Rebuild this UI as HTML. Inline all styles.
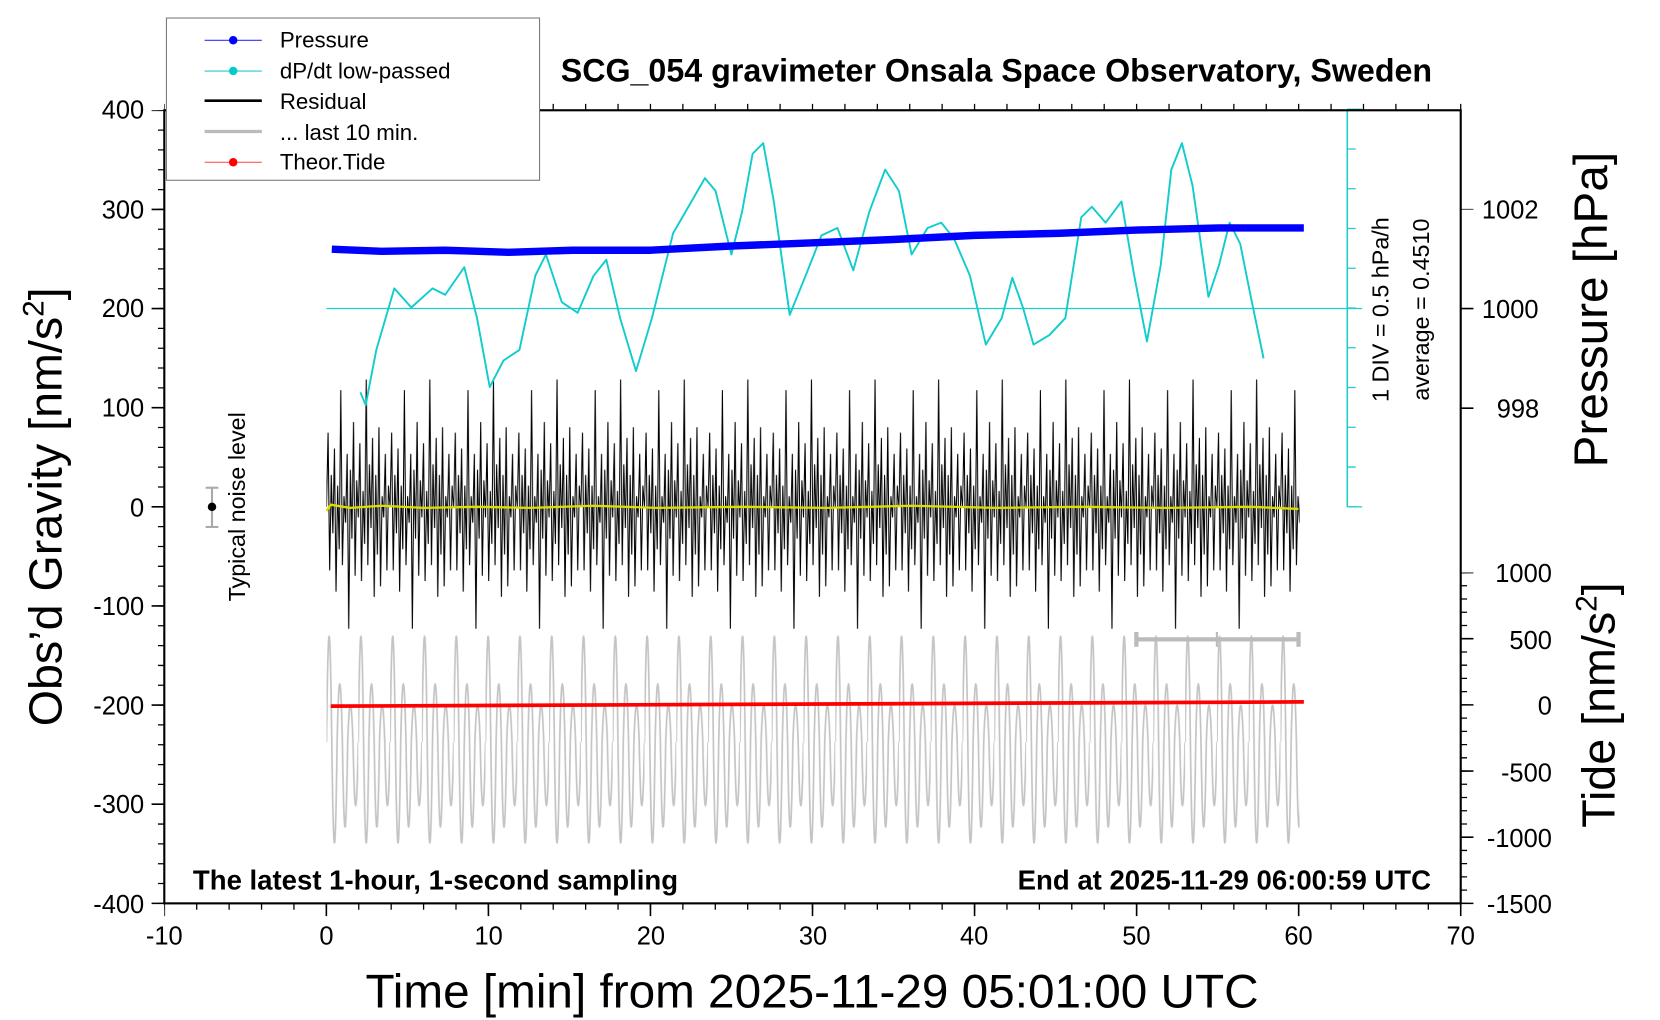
<!DOCTYPE html>
<html><head><meta charset="utf-8"><style>
html,body{margin:0;padding:0;background:#fff;}
svg{display:block;font-family:"Liberation Sans",sans-serif;}
</style></head><body>
<svg width="1660" height="1020" viewBox="0 0 1566 962" preserveAspectRatio="none" xmlns="http://www.w3.org/2000/svg">
<defs>
<pattern id="res" patternUnits="userSpaceOnUse" x="308" y="318" width="60" height="320">
<path fill="none" stroke="#000" stroke-width="1" d="M0,160 L1.5,90 3,220 4.5,130 6,185 7.5,105 9,240 10.5,140 12,200 13.5,50 15,215 16.5,150 18,175 19.5,110 21,275 22.5,125 24,190 25.5,80 27,225 28.5,135 30,170 31.5,100 33,230 34.5,145 36,195 37.5,40 39,215 40.5,120 42,180 43.5,95 45,245 46.5,130 48,205 49.5,85 51,235 52.5,150 54,170 55.5,110 57,220 58.5,140 60,160"/>
</pattern>
<pattern id="gry" patternUnits="userSpaceOnUse" x="308" y="560" width="30" height="300">
<path fill="none" stroke="#c4c4c4" stroke-width="1.6" d="M0,140 Q2.5,-60 5,140 Q7.5,330 10,140 Q12.5,30 15,140 Q17.5,300 20,140 Q22.5,70 25,140 Q27.5,260 30,140"/>
</pattern>
</defs>
<rect width="1566" height="962" fill="#fff"/>
<rect x="308" y="560" width="918" height="300" fill="url(#gry)"/>
<rect x="308" y="318" width="918" height="320" fill="url(#res)"/>
<polyline fill="none" stroke="#dd0" stroke-width="2.2" points="308,482 312,476 330,479 360,477 400,479 450,478 500,479 560,477 620,479 700,478 780,479 860,477 940,479 1020,478 1100,479 1180,478 1225,480"/>
<line x1="312" y1="666" x2="1230" y2="662" stroke="#f00" stroke-width="3.5"/>
<line x1="308" y1="291" x2="1285" y2="291" stroke="#2cc" stroke-width="1.2"/>
<line x1="1271" y1="103" x2="1271" y2="478" stroke="#2cc" stroke-width="1.5"/>
<line x1="1271" y1="103" x2="1285" y2="103" stroke="#2cc" stroke-width="1.2"/>
<line x1="1271" y1="478" x2="1285" y2="478" stroke="#2cc" stroke-width="1.2"/>
<line x1="1275" y1="103" x2="1275" y2="478" stroke="#2cc" stroke-width="8" stroke-dasharray="1.2 36.3" stroke-dashoffset="0.6"/>
<polyline fill="none" stroke="#1cc" stroke-width="1.8" stroke-linejoin="round" points="340,370 345,382 355,330 372,272 388,290 408,272 420,278 438,252 450,300 462,365 475,340 490,330 505,260 515,240 530,285 545,295 560,260 572,245 585,300 600,350 615,300 635,220 665,168 675,180 690,240 700,200 710,145 720,135 730,190 745,297 760,260 775,222 790,215 805,255 820,200 835,160 848,180 860,240 875,215 888,210 900,225 915,260 930,325 945,300 955,262 965,290 975,325 990,316 1005,300 1020,205 1030,195 1043,210 1058,190 1070,260 1082,322 1095,250 1105,160 1115,135 1125,175 1140,280 1150,250 1160,210 1170,230 1180,280 1192,338"/>
<polyline fill="none" stroke="#00f" stroke-width="7" stroke-linejoin="round" points="313,235 360,237 420,236 480,238 540,236 614,236 690,232 767,229 840,226 919,222 1000,220 1072,217 1150,215 1230,215"/>
<rect x="155" y="104" width="1223" height="748" fill="none" stroke="#000" stroke-width="2"/>
<g stroke="#000">
<line x1="155" y1="855" x2="1379" y2="855" stroke-width="6" stroke-dasharray="1.2 29.375" stroke-dashoffset="0.6"/>
<line x1="155" y1="858" x2="1379" y2="858" stroke-width="12" stroke-dasharray="1.5 151.375" stroke-dashoffset="0.75"/>
<line x1="155" y1="101" x2="1379" y2="101" stroke-width="6" stroke-dasharray="1.2 29.375" stroke-dashoffset="0.6"/>
<line x1="152" y1="104" x2="152" y2="853" stroke-width="6" stroke-dasharray="1.2 17.5" stroke-dashoffset="0.6"/>
<line x1="149" y1="104" x2="149" y2="853" stroke-width="12" stroke-dasharray="1.5 92" stroke-dashoffset="0.75"/>
<line x1="1384" y1="197" x2="1384" y2="386" stroke-width="12" stroke-dasharray="1.5 92.5" stroke-dashoffset="0.75"/>
<line x1="1381" y1="540" x2="1381" y2="853" stroke-width="6" stroke-dasharray="1.2 11.28" stroke-dashoffset="0.6"/>
<line x1="1384" y1="540" x2="1384" y2="853" stroke-width="12" stroke-dasharray="1.5 60.9" stroke-dashoffset="0.75"/>
</g>
<g font-size="24" fill="#000">
<g text-anchor="end">
<text x="136" y="112">400</text><text x="136" y="206">300</text><text x="136" y="299">200</text><text x="136" y="393">100</text><text x="136" y="487">0</text><text x="136" y="580">-100</text><text x="136" y="674">-200</text><text x="136" y="767">-300</text><text x="136" y="861">-400</text>
</g>
<g text-anchor="middle">
<text x="155" y="891">-10</text><text x="308" y="891">0</text><text x="461" y="891">10</text><text x="614" y="891">20</text><text x="767" y="891">30</text><text x="919" y="891">40</text><text x="1072" y="891">50</text><text x="1225" y="891">60</text><text x="1378" y="891">70</text>
</g>
<text x="1398" y="206">1002</text><text x="1398" y="300">1000</text><text x="1412" y="394">998</text>
<g text-anchor="end">
<text x="1464" y="549">1000</text><text x="1464" y="612">500</text><text x="1464" y="674">0</text><text x="1464" y="737">-500</text><text x="1464" y="799">-1000</text><text x="1464" y="861">-1500</text>
</g>
</g>
<text x="766" y="950" font-size="45" text-anchor="middle">Time [min] from 2025-11-29 05:01:00 UTC</text>
<text transform="translate(58,478) rotate(-90)" font-size="44" text-anchor="middle">Obs’d Gravity [nm/s<tspan font-size="28" dy="-17">2</tspan><tspan dy="17">]</tspan></text>
<text transform="translate(1516,292) rotate(-90)" font-size="45" text-anchor="middle">Pressure [hPa]</text>
<text transform="translate(1523,665) rotate(-90)" font-size="44" text-anchor="middle">Tide [nm/s<tspan font-size="28" dy="-17">2</tspan><tspan dy="17">]</tspan></text>
<text x="940" y="77" font-size="30.4" font-weight="bold" text-anchor="middle">SCG_054 gravimeter Onsala Space Observatory, Sweden</text>
<text x="182" y="839" font-size="26" font-weight="bold">The latest 1-hour, 1-second sampling</text>
<text x="1350" y="839" font-size="26" font-weight="bold" text-anchor="end">End at 2025-11-29 06:00:59 UTC</text>
<text transform="translate(1310,292) rotate(-90)" font-size="22" text-anchor="middle">1 DIV = 0.5 hPa/h</text>
<text transform="translate(1348,292) rotate(-90)" font-size="22" text-anchor="middle">average = 0.4510</text>
<text transform="translate(231,478) rotate(-90)" font-size="22" text-anchor="middle">Typical noise level</text>
<g stroke="#aaa" stroke-width="2"><line x1="200" y1="460" x2="200" y2="497"/><line x1="194" y1="460" x2="206" y2="460"/><line x1="194" y1="497" x2="206" y2="497"/></g>
<circle cx="200" cy="478" r="4" fill="#000"/>
<g stroke="#bbb" stroke-width="4"><line x1="1072" y1="603" x2="1225" y2="603"/><line x1="1072" y1="596" x2="1072" y2="610"/><line x1="1225" y1="596" x2="1225" y2="610"/><line x1="1148" y1="596" x2="1148" y2="610" stroke-width="2"/></g>
<rect x="157" y="17" width="352" height="153" fill="#fff" stroke="#777" stroke-width="1"/>
<g font-size="21">
<line x1="193" y1="38" x2="247" y2="38" stroke="#33f" stroke-width="1"/><circle cx="220" cy="38" r="4" fill="#00f"/><text x="264" y="45">Pressure</text>
<line x1="193" y1="67" x2="247" y2="67" stroke="#2cc" stroke-width="1"/><circle cx="220" cy="67" r="4" fill="#0cc"/><text x="264" y="74">dP/dt low-passed</text>
<line x1="193" y1="95" x2="247" y2="95" stroke="#000" stroke-width="2.5"/><text x="264" y="103">Residual</text>
<line x1="193" y1="124" x2="247" y2="124" stroke="#bbb" stroke-width="3"/><text x="264" y="132">... last 10 min.</text>
<line x1="193" y1="153" x2="247" y2="153" stroke="#f44" stroke-width="1"/><circle cx="220" cy="153" r="4" fill="#f00"/><text x="264" y="160">Theor.Tide</text>
</g>
</svg>
</body></html>
